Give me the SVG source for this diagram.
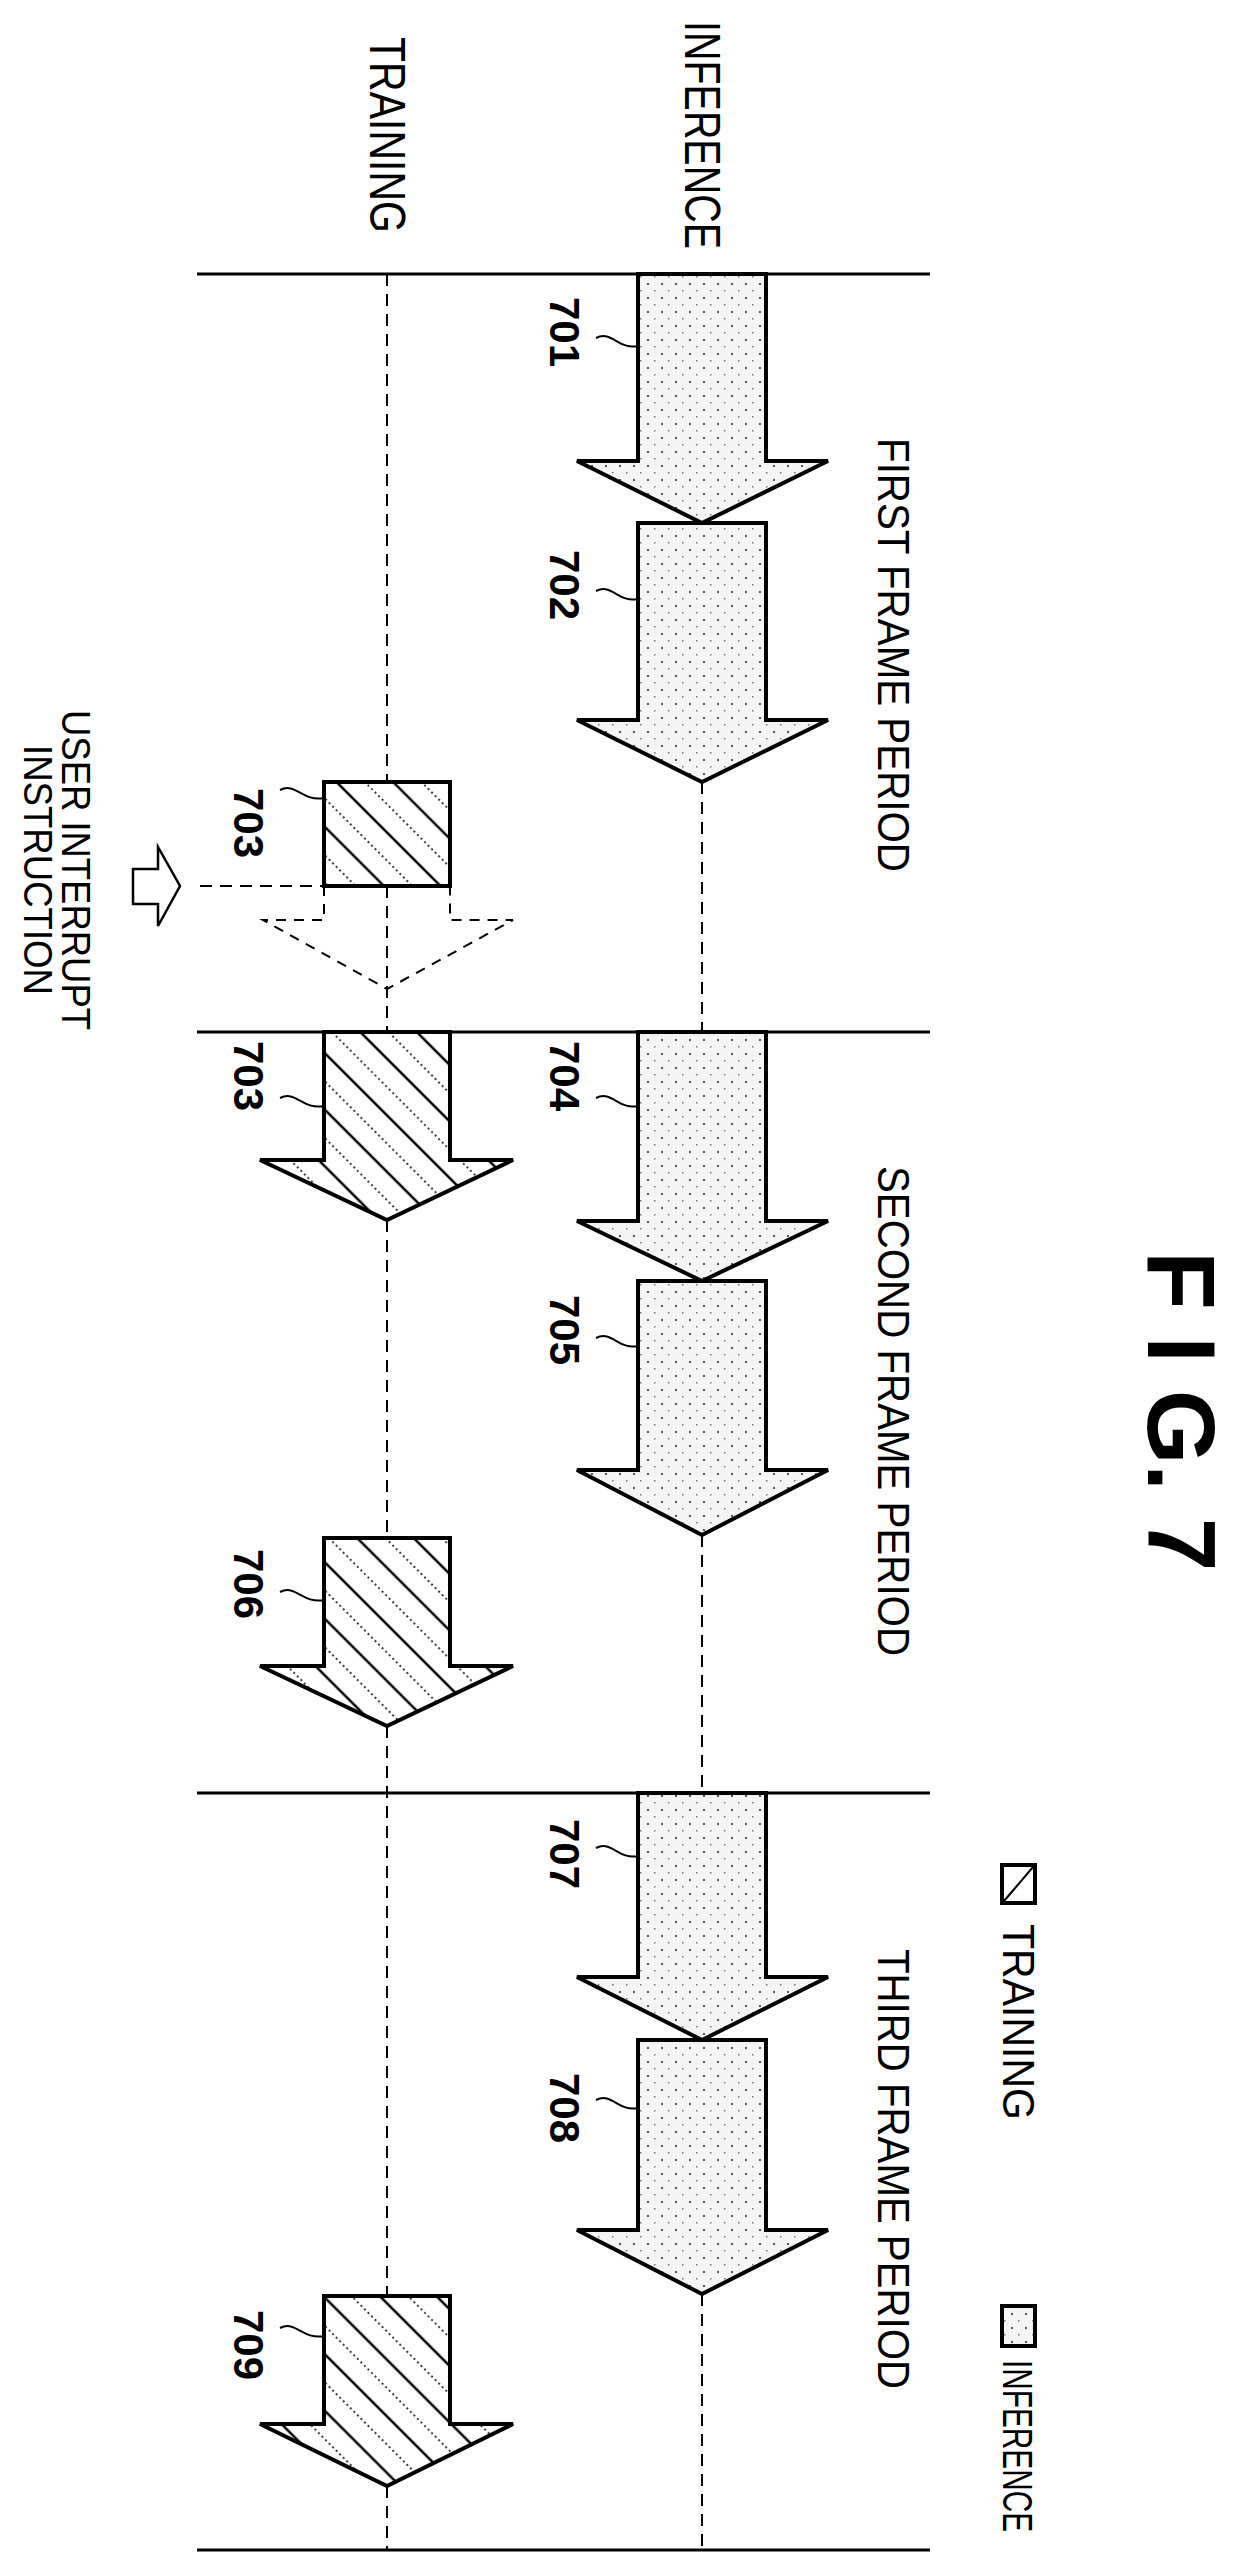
<svg xmlns="http://www.w3.org/2000/svg" width="1242" height="2574" viewBox="0 0 1242 2574">
<defs>
<pattern id="dots" width="14" height="14" patternUnits="userSpaceOnUse">
<rect width="14" height="14" fill="#f4f4f4"/>
<rect x="3" y="3" width="2" height="2" fill="#555"/>
<rect x="10" y="10" width="1.5" height="1.5" fill="#777"/>
</pattern>
<pattern id="hatch" width="40" height="40" patternUnits="userSpaceOnUse" patternTransform="rotate(-45)">
<rect width="40" height="40" fill="#fff"/>
<line x1="5" y1="0" x2="5" y2="40" stroke="#000" stroke-width="2.5"/>
<line x1="25" y1="0" x2="25" y2="40" stroke="#000" stroke-width="1.5" stroke-dasharray="2 3"/>
</pattern>
</defs>
<style>
.frame{stroke:#000;stroke-width:3;fill:none}
.axis{stroke:#000;stroke-width:2;stroke-dasharray:12 8;fill:none}
.inf{fill:url(#dots);stroke:#000;stroke-width:4}
.trn{fill:url(#hatch);stroke:#000;stroke-width:4}
.lead{stroke:#000;stroke-width:2;fill:none}
.t{font-family:"Liberation Sans",Arial,sans-serif;fill:#000}
.num{font-family:"Liberation Sans",Arial,sans-serif;font-size:42px;font-weight:bold;fill:#000}
</style>

<g id="connectors">
<line class="frame" x1="197" y1="274" x2="930" y2="274"/>
<line class="frame" x1="197" y1="1032" x2="930" y2="1032"/>
<line class="frame" x1="197" y1="1793" x2="930" y2="1793"/>
<line class="frame" x1="197" y1="2550" x2="930" y2="2550"/>
<line class="axis" x1="702" y1="782" x2="702" y2="1032"/>
<line class="axis" x1="702" y1="1535" x2="702" y2="1793"/>
<line class="axis" x1="702" y1="2294" x2="702" y2="2550"/>
<line class="axis" x1="387" y1="274" x2="387" y2="782"/>
<line class="axis" x1="387" y1="886" x2="387" y2="1032"/>
<line class="axis" x1="387" y1="1220" x2="387" y2="1538"/>
<line class="axis" x1="387" y1="1726" x2="387" y2="2296"/>
<line class="axis" x1="387" y1="2486" x2="387" y2="2550"/>
<line class="axis" x1="200" y1="886" x2="324" y2="886"/>
</g>

<g id="title"><text class="t" transform="translate(1148,1411) rotate(90)" text-anchor="middle" font-size="96" font-weight="bold">F I G. 7</text></g>

<g id="lane-labels">
<text class="t" transform="translate(685,135) rotate(90)" text-anchor="middle" font-size="50" textLength="228" lengthAdjust="spacingAndGlyphs">INFERENCE</text>
<text class="t" transform="translate(370,135) rotate(90)" text-anchor="middle" font-size="50" textLength="196" lengthAdjust="spacingAndGlyphs">TRAINING</text>
<text class="t" transform="translate(878,655) rotate(90)" text-anchor="middle" font-size="44" textLength="434" lengthAdjust="spacingAndGlyphs">FIRST FRAME PERIOD</text>
<text class="t" transform="translate(878,1411) rotate(90)" text-anchor="middle" font-size="44" textLength="490" lengthAdjust="spacingAndGlyphs">SECOND FRAME PERIOD</text>
<text class="t" transform="translate(878,2169) rotate(90)" text-anchor="middle" font-size="44" textLength="440" lengthAdjust="spacingAndGlyphs">THIRD FRAME PERIOD</text>
</g>

<g id="legend">
<rect x="1002" y="1865" width="33" height="38" fill="#fff" stroke="#000" stroke-width="4"/>
<line x1="1004" y1="1901" x2="1033" y2="1867" stroke="#000" stroke-width="2"/>
<text class="t" transform="translate(1003,2022) rotate(90)" text-anchor="middle" font-size="44" textLength="196" lengthAdjust="spacingAndGlyphs">TRAINING</text>
<rect x="1002" y="2306" width="33" height="40" fill="url(#dots)" stroke="#000" stroke-width="4"/>
<text class="t" transform="translate(1003,2446) rotate(90)" text-anchor="middle" font-size="42" textLength="172" lengthAdjust="spacingAndGlyphs">INFERENCE</text>
</g>

<g id="user-interrupt">
<polygon points="133,869 158,869 158,847 180,886 158,926 158,904 133,904" fill="#fff" stroke="#000" stroke-width="2.5"/>
<text class="t" transform="translate(62,870) rotate(90)" text-anchor="middle" font-size="40" textLength="320" lengthAdjust="spacingAndGlyphs">USER INTERRUPT</text>
<text class="t" transform="translate(24,870) rotate(90)" text-anchor="middle" font-size="40" textLength="250" lengthAdjust="spacingAndGlyphs">INSTRUCTION</text>
</g>

<g id="n701"><path class="inf" d="M638,274 H766 V461 H828 L702,523 L577,461 H638 Z"/>
<text class="num" transform="translate(550,332) rotate(90)" text-anchor="middle">701</text>
<path class="lead" d="M596,338 C612,330 618,350 638,346"/></g>
<g id="n702"><path class="inf" d="M638,523 H766 V720 H828 L702,782 L577,720 H638 Z"/>
<text class="num" transform="translate(550,585) rotate(90)" text-anchor="middle">702</text>
<path class="lead" d="M596,591 C612,583 618,603 638,599"/></g>
<g id="n703a"><rect x="324" y="782" width="126" height="104" fill="url(#hatch)" stroke="#000" stroke-width="4"/>
<path d="M324,886 V920 H263 L387,989 L513,920 H450 V886" fill="none" stroke="#000" stroke-width="2" stroke-dasharray="10 8"/>
<text class="num" transform="translate(234,823) rotate(90)" text-anchor="middle">703</text>
<path class="lead" d="M280,790 C296,782 302,802 324,798"/></g>
<g id="n703b"><path class="trn" d="M324,1032 H450 V1160 H513 L387,1220 L260,1160 H324 Z"/>
<text class="num" transform="translate(234,1076) rotate(90)" text-anchor="middle">703</text>
<path class="lead" d="M280,1098 C296,1090 302,1110 324,1106"/></g>
<g id="n704"><path class="inf" d="M638,1032 H766 V1221 H828 L702,1281 L577,1221 H638 Z"/>
<text class="num" transform="translate(550,1076) rotate(90)" text-anchor="middle">704</text>
<path class="lead" d="M596,1098 C612,1090 618,1110 638,1106"/></g>
<g id="n705"><path class="inf" d="M638,1281 H766 V1470 H828 L702,1535 L577,1470 H638 Z"/>
<text class="num" transform="translate(550,1330) rotate(90)" text-anchor="middle">705</text>
<path class="lead" d="M596,1338 C612,1330 618,1350 638,1346"/></g>
<g id="n706"><path class="trn" d="M324,1538 H450 V1666 H513 L387,1726 L260,1666 H324 Z"/>
<text class="num" transform="translate(234,1584) rotate(90)" text-anchor="middle">706</text>
<path class="lead" d="M280,1592 C296,1584 302,1604 324,1600"/></g>
<g id="n707"><path class="inf" d="M638,1793 H766 V1977 H828 L702,2040 L577,1977 H638 Z"/>
<text class="num" transform="translate(550,1854) rotate(90)" text-anchor="middle">707</text>
<path class="lead" d="M596,1848 C612,1840 618,1860 638,1856"/></g>
<g id="n708"><path class="inf" d="M638,2040 H766 V2230 H828 L702,2294 L577,2230 H638 Z"/>
<text class="num" transform="translate(550,2108) rotate(90)" text-anchor="middle">708</text>
<path class="lead" d="M596,2100 C612,2092 618,2112 638,2108"/></g>
<g id="n709"><path class="trn" d="M324,2296 H450 V2424 H513 L387,2486 L260,2424 H324 Z"/>
<text class="num" transform="translate(234,2345) rotate(90)" text-anchor="middle">709</text>
<path class="lead" d="M280,2328 C296,2320 302,2340 324,2336"/></g>
</svg>
